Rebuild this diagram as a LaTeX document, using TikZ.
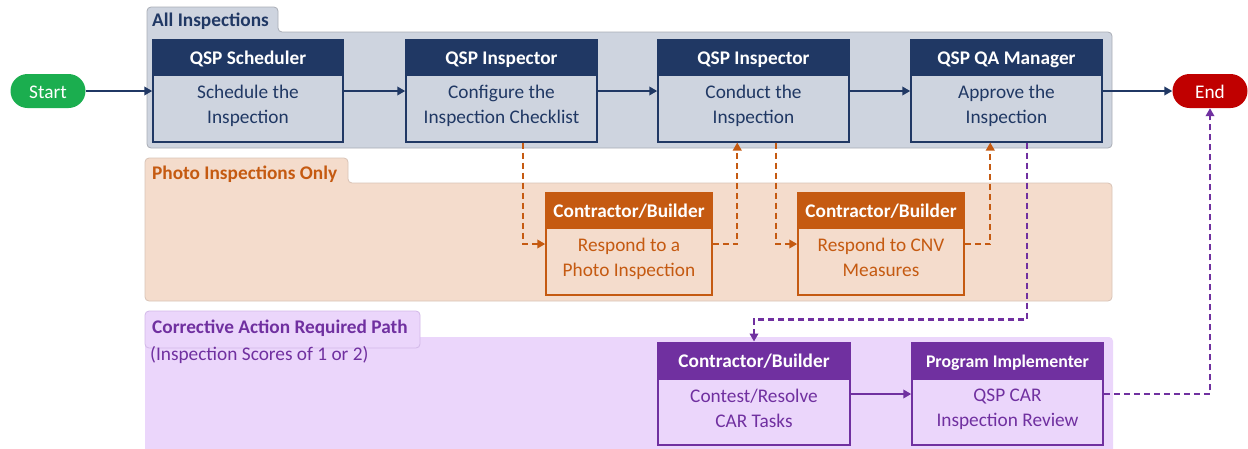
\documentclass[tikz,border=0pt]{standalone}
\usepackage{fontspec}
\setmainfont{Carlito}
\usetikzlibrary{arrows.meta,calc}
\definecolor{navy}{HTML}{203864}
\definecolor{grayfill}{HTML}{CED4DF}
\definecolor{grayline}{HTML}{A9ADB5}
\definecolor{orng}{HTML}{C55A11}
\definecolor{peach}{HTML}{F4DCCC}
\definecolor{peachline}{HTML}{D8C3B6}
\definecolor{purp}{HTML}{7030A0}
\definecolor{lav}{HTML}{EBD6FB}
\definecolor{lavline}{HTML}{D2B8E8}
\definecolor{startg}{HTML}{1BAE4F}
\definecolor{endr}{HTML}{C00000}
\tikzset{
  bod/.style={draw=#1, text=#1, line width=1.5pt, minimum height=67, inner sep=0pt, text depth=7.5pt, align=center, anchor=north, font=\fontsize{19.3}{25}\selectfont},
  hdr/.style={draw=#1, fill=#1, text=white, line width=1.5pt, minimum height=34, inner sep=0pt, text height=16pt, text depth=0pt, anchor=south, font=\fontsize{19.3}{22}\selectfont\bfseries},
  pill/.style={fill=#1, text=white, rounded corners=17pt, minimum width=75, minimum height=34, inner sep=0pt, text height=14pt, text depth=0pt, font=\fontsize{19.3}{22}\selectfont},
  flow/.style={draw=#1, line width=2.2pt, -{Triangle[length=8pt,width=8.5pt]}},
  dflow/.style={flow=#1, line width=2.4pt, dash pattern=on 6pt off 4pt},
  tabtxt/.style={anchor=west, inner sep=0pt, text=#1, font=\fontsize{19.3}{22}\selectfont\bfseries},
}
\begin{document}
\begin{tikzpicture}[x=1pt,y=-1pt]
\useasboundingbox (0,0) rectangle (1248,448);
% containers
\draw[grayline, fill=grayfill, line width=0.8pt, rounded corners=4pt]
  (147,148) -- (147,7) -- (278,7) -- (278,32) -- (1112,32) -- (1112,148) -- cycle;
\node[tabtxt=navy] (tabA) at (152,21.5) {All Inspections};
\draw[peachline, fill=peach, line width=0.8pt, rounded corners=4pt]
  (145,301) -- (145,158) -- (348,158) -- (348,183) -- (1112,183) -- (1112,301) -- cycle;
\node[tabtxt=orng] (tabB) at (152,174) {Photo Inspections Only};
\fill[lav, rounded corners=4pt] (145,460) -- (145,337) -- (1113,337) -- (1113,460) -- cycle;
\draw[lavline, fill=lav, line width=0.8pt, rounded corners=4pt] (145,311) rectangle (420,348);
\node[tabtxt=purp] (tabC) at (152,328.5) {Corrective Action Required Path};
\node[tabtxt=purp, font=\fontsize{19.3}{22}\selectfont] (tabC2) at (150,355) {(Inspection Scores of 1 or 2)};
% start / end
\node[pill=startg] (start) at (48,91) {Start};
\node[pill=endr] (end) at (1210,91) {End};
% row 1
\node[bod=navy, fill=grayfill, minimum width=190] (b1) at (248,74) {Schedule the\\Inspection};
\node[hdr=navy, minimum width=190] (b1h) at (b1.north) {QSP Scheduler};
\node[bod=navy, fill=grayfill, minimum width=191] (b2) at (501.5,74) {Configure the\\Inspection Checklist};
\node[hdr=navy, minimum width=191] (b2h) at (b2.north) {QSP Inspector};
\node[bod=navy, fill=grayfill, minimum width=191] (b3) at (753.5,74) {Conduct the\\Inspection};
\node[hdr=navy, minimum width=191] (b3h) at (b3.north) {QSP Inspector};
\node[bod=navy, fill=grayfill, minimum width=191] (b4) at (1006.5,74) {Approve the\\Inspection};
\node[hdr=navy, minimum width=191] (b4h) at (b4.north) {QSP QA Manager};
% row 2
\node[bod=orng, fill=peach, minimum width=166] (b5) at (629,227) {Respond to a\\Photo Inspection};
\node[hdr=orng, minimum width=166] (b5h) at (b5.north) {Contractor/Builder};
\node[bod=orng, fill=peach, minimum width=166] (b6) at (881,227) {Respond to CNV\\Measures};
\node[hdr=orng, minimum width=166] (b6h) at (b6.north) {Contractor/Builder};
% row 3
\node[bod=purp, fill=lav, minimum width=192, minimum height=66] (b7) at (754,378) {Contest/Resolve\\CAR Tasks};
\node[hdr=purp, minimum width=192, minimum height=35] (b7h) at (b7.north) {Contractor/Builder};
\node[bod=purp, fill=lav, minimum width=191, minimum height=66] (b8) at (1007.5,378) {QSP CAR\\Inspection Review};
\node[hdr=purp, minimum width=191, minimum height=35, font=\fontsize{17.8}{20}\selectfont\bfseries] (b8h) at (b8.north) {Program Implementer};
% main flow
\draw[flow=navy] (start) -- (start -| b1.west);
\draw[flow=navy] (b1.east |- start) -- (b2.west |- start);
\draw[flow=navy] (b2.east |- start) -- (b3.west |- start);
\draw[flow=navy] (b3.east |- start) -- (b4.west |- start);
\draw[flow=navy] (b4.east |- start) -- (end);
% photo path
\draw[dflow=orng] ($(b2.south west)+(118,0)$) |- ($(b5.north west)+(0,17)$);
\draw[dflow=orng] ($(b5.north east)+(0,17)$) -| ($(b3.south west)+(80,0)$);
\draw[dflow=orng] ($(b3.south west)+(119,0)$) |- ($(b6.north west)+(0,17)$);
\draw[dflow=orng] ($(b6.north east)+(0,17)$) -| ($(b4.south west)+(80,0)$);
% CAR path
\draw[dflow=purp] ($(b4.south west)+(117,0)$) -- ++(0,177) -| (b7h.north);
\draw[flow=purp] ($(b7.north east)+(0,16)$) -- ($(b8.north west)+(0,16)$);
\draw[dflow=purp] ($(b8.north east)+(0,16)$) -| (end.south);
\end{tikzpicture}
\end{document}
